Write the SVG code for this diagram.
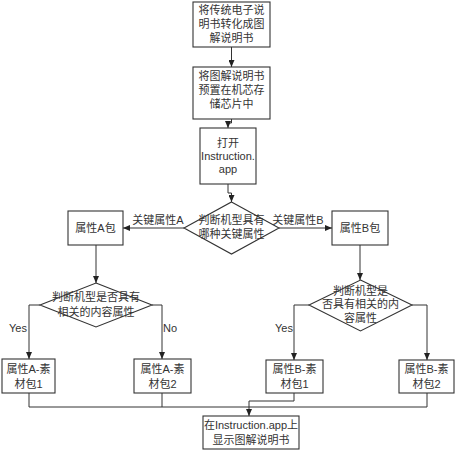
<svg xmlns="http://www.w3.org/2000/svg" width="456" height="450" viewBox="0 0 456 450">
<style>
.n{fill:#fff;stroke:#333;stroke-width:1.1}
.c{fill:none;stroke:#333;stroke-width:1}
text{font-family:"Liberation Sans","Noto Sans CJK SC",sans-serif;font-size:11px;fill:#333;text-anchor:middle;dominant-baseline:central}
</style>
<defs>
<marker id="ah" markerUnits="userSpaceOnUse" markerWidth="7" markerHeight="6" refX="7" refY="3" orient="auto">
<path d="M0,0 L7,3 L0,6 z" fill="#222"/>
</marker>
</defs>
<rect width="456" height="450" fill="#fff"/>
<g id="connectors">
<path class="c" d="M231.5,47 V67" marker-end="url(#ah)"/>
<path class="c" d="M231.5,119 V123 H228 V128" marker-end="url(#ah)"/>
<path class="c" d="M228,184 V193 H231.5 V202" marker-end="url(#ah)"/>
<path class="c" d="M184,228 H123" marker-end="url(#ah)"/>
<path class="c" d="M279,228 H332" marker-end="url(#ah)"/>
<path class="c" d="M96,245 V283" marker-end="url(#ah)"/>
<path class="c" d="M40,305 H29 V359" marker-end="url(#ah)"/>
<path class="c" d="M152,305 H162 V359" marker-end="url(#ah)"/>
<path class="c" d="M360,245 V280" marker-end="url(#ah)"/>
<path class="c" d="M309,305 H294 V360" marker-end="url(#ah)"/>
<path class="c" d="M412,305 H427 V360" marker-end="url(#ah)"/>
<path class="c" d="M29,393 V407 H427 V393"/>
<path class="c" d="M162,393 V407"/>
<path class="c" d="M294,393 V401 H249 V416" marker-end="url(#ah)"/>
<text x="158" y="220">关键属性A</text>
<text x="298" y="220">关键属性B</text>
<text x="18" y="328">Yes</text>
<text x="170" y="328">No</text>
<text x="284" y="328">Yes</text>
</g>
<g id="n1">
<rect class="n" x="193" y="2" width="77" height="45"/>
<text x="231.5" y="10">将传统电子说</text>
<text x="231.5" y="24">明书转化成图</text>
<text x="231.5" y="38">解说明书</text>
</g>
<g id="n2">
<rect class="n" x="193" y="67" width="77" height="52"/>
<text x="231.5" y="76">将图解说明书</text>
<text x="231.5" y="90">预置在机芯存</text>
<text x="231.5" y="104">储芯片中</text>
</g>
<g id="n3">
<rect class="n" x="200" y="128" width="56" height="56"/>
<text x="228" y="143">打开</text>
<text x="228" y="156">Instruction.</text>
<text x="228" y="169">app</text>
</g>
<g id="d1">
<polygon class="n" points="231.5,202 279,228 231.5,254 184,228"/>
<text x="231.5" y="220">判断机型具有</text>
<text x="231.5" y="234">哪种关键属性</text>
</g>
<g id="nA">
<rect class="n" x="68" y="211" width="55" height="34"/>
<text x="95.5" y="228">属性A包</text>
</g>
<g id="nB">
<rect class="n" x="332" y="211" width="56" height="34"/>
<text x="360" y="228">属性B包</text>
</g>
<g id="dA">
<polygon class="n" points="96,283 152,305 96,327 40,305"/>
<text x="96" y="297">判断机型是否具有</text>
<text x="96" y="312">相关的内容属性</text>
</g>
<g id="dB">
<polygon class="n" points="360.5,280 412,305 360.5,331 309,305"/>
<text x="360.5" y="291">判断机型是</text>
<text x="360.5" y="304">否具有相关的内</text>
<text x="360.5" y="318">容属性</text>
</g>
<g id="nA1">
<rect class="n" x="2" y="359" width="53" height="34"/>
<text x="28.5" y="369">属性A-素</text>
<text x="28.5" y="384">材包1</text>
</g>
<g id="nA2">
<rect class="n" x="134" y="359" width="57" height="34"/>
<text x="162.5" y="369">属性A-素</text>
<text x="162.5" y="384">材包2</text>
</g>
<g id="nB1">
<rect class="n" x="266" y="360" width="57" height="33"/>
<text x="294.5" y="369">属性B-素</text>
<text x="294.5" y="384">材包1</text>
</g>
<g id="nB2">
<rect class="n" x="399" y="360" width="55" height="33"/>
<text x="426.5" y="369">属性B-素</text>
<text x="426.5" y="384">材包2</text>
</g>
<g id="nEnd">
<rect class="n" x="203" y="416" width="96" height="33"/>
<text x="251" y="425">在Instruction.app上</text>
<text x="251" y="440">显示图解说明书</text>
</g>
</svg>
